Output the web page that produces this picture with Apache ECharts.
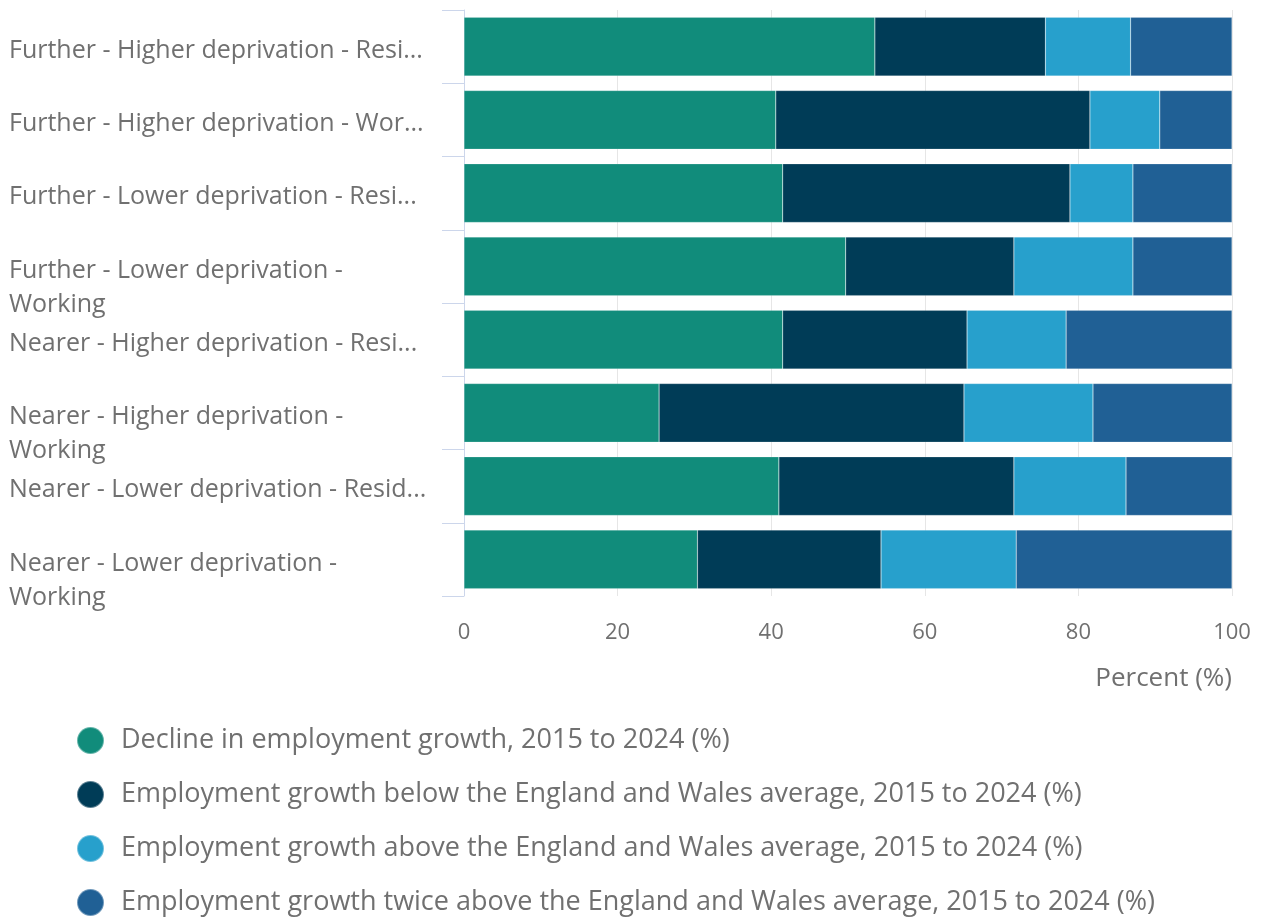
<!DOCTYPE html>
<html>
<head>
<meta charset="utf-8">
<script src="https://cdn.jsdelivr.net/npm/echarts@6/dist/echarts.min.js"></script>
<style>
html,body{margin:0;padding:0;background:#fff;}
#chart{width:1261px;height:917px;}
</style>
</head>
<body>
<div id="chart"></div>
<script>
const categories = [
  "Further - Higher deprivation - Resident",
  "Further - Higher deprivation - Working",
  "Further - Lower deprivation - Resident",
  "Further - Lower deprivation - Working",
  "Nearer - Higher deprivation - Resident",
  "Nearer - Higher deprivation - Working",
  "Nearer - Lower deprivation - Resident",
  "Nearer - Lower deprivation - Working"
];
const tickLabels = [
  "Further - Higher deprivation - Resi...",
  "Further - Higher deprivation - Wor...",
  "Further - Lower deprivation - Resi...",
  "Further - Lower deprivation -\nWorking",
  "Nearer - Higher deprivation - Resi...",
  "Nearer - Higher deprivation -\nWorking",
  "Nearer - Lower deprivation - Resid...",
  "Nearer - Lower deprivation -\nWorking"
];
const seriesNames = [
  "Decline in employment growth, 2015 to 2024 (%)",
  "Employment growth below the England and Wales average, 2015 to 2024 (%)",
  "Employment growth above the England and Wales average, 2015 to 2024 (%)",
  "Employment growth twice above the England and Wales average, 2015 to 2024 (%)"
];
const declineValues = [53.5, 40.6, 41.5, 49.7, 41.5, 25.4, 41.0, 30.4];
const belowValues   = [22.2, 40.9, 37.4, 21.9, 24.0, 39.7, 30.6, 23.9];
const aboveValues   = [11.1,  9.1,  8.2, 15.5, 12.9, 16.8, 14.6, 17.6];
const twiceValues   = [13.2,  9.4, 12.9, 12.9, 21.6, 18.1, 13.8, 28.1];
const colors = ["#118c7b", "#003c57", "#27a0cc", "#206095"];
const xTicks = [0, 20, 40, 60, 80, 100];

const chart = echarts.init(document.getElementById('chart'));
const font = "'Open Sans', sans-serif";
const allValues = [declineValues, belowValues, aboveValues, twiceValues];
chart.setOption({
  animation: false,
  textStyle: { fontFamily: font },
  grid: { left: 464, right: 29, top: 10, bottom: 321, containLabel: false },
  xAxis: {
    type: 'value', min: xTicks[0], max: xTicks[xTicks.length - 1], interval: 20,
    axisLine: { show: false }, axisTick: { show: false },
    splitLine: { lineStyle: { color: '#e6e6e6', width: 1 } },
    axisLabel: { color: '#707070', fontSize: 22, margin: 26, fontFamily: font },
    name: 'Percent (%)', nameLocation: 'end', nameGap: 0,
    nameTextStyle: { color: '#707070', fontSize: 26, align: 'right', verticalAlign: 'top', padding: [70, 0, 0, 0], fontFamily: font }
  },
  yAxis: {
    type: 'category', data: categories, inverse: true,
    axisLine: { show: true, lineStyle: { color: '#ccd6eb', width: 1 } },
    axisTick: { show: true, length: 22, lineStyle: { color: '#ccd6eb' } },
    axisLabel: {
      color: '#707070', fontSize: 25, align: 'left', margin: 455, fontFamily: font,
      interval: 0, showMinLabel: true, showMaxLabel: true, hideOverlap: false,
      formatter: (v, i) => {
        const lines = tickLabels[i].split('\n');
        const body = lines.map(l => '{t|' + l + '}');
        if (lines.length > 1) body.unshift('{t|}');
        return '{gap|}\n' + body.join('\n');
      },
      rich: {
        gap: { lineHeight: 8, fontSize: 8, height: 8 },
        t: { fontSize: 25, lineHeight: 34, color: '#707070', fontFamily: font }
      }
    }
  },
  legend: {
    orient: 'vertical', left: 76, top: 726, height: 260, padding: 0, itemWidth: 27, itemHeight: 27, itemGap: 25, icon: 'circle',
    textStyle: { color: '#707070', fontSize: 27, lineHeight: 27, padding: [0, 0, 0, 12], fontFamily: font },
    data: seriesNames
  },
  series: seriesNames.map((n, k) => ({
    name: n, type: 'bar', stack: 'total', data: allValues[k], barCategoryGap: '20%',
    itemStyle: { color: colors[k], borderColor: 'rgba(255,255,255,0.35)', borderWidth: 0.5 }
  }))
});
</script>
</body>
</html>
